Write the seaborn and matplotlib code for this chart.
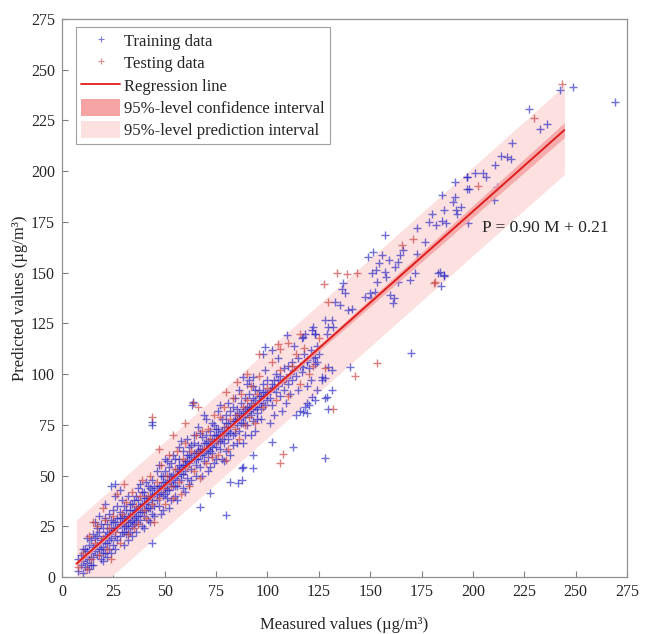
# ============================================================
# Measured vs predicted scatter with regression line and bands
# ============================================================

import numpy as np
import pandas as pd
import matplotlib
matplotlib.use('Agg')
import matplotlib.pyplot as plt
import seaborn as sns
from matplotlib.lines import Line2D
from matplotlib.patches import Patch

# -------------------------------------------------------
# DATA ((measured, predicted) pairs)
# -------------------------------------------------------

# training points, low range
train_low = [
    (8, 3), (9, 6), (9, 11), (10, 8), (10, 14), (11, 5), (11, 10), (12, 13), (12, 7), (13, 16),
    (13, 9), (14, 12), (14, 18), (15, 10), (15, 15), (8, 9), (10, 2), (12, 19), (14, 6), (15, 21),
    (16, 13), (16, 19), (17, 11), (17, 16), (18, 22), (18, 14), (19, 9), (19, 18), (20, 15), (20, 24),
    (21, 12), (21, 20), (22, 17), (22, 26), (23, 14), (23, 21), (24, 19), (24, 28), (25, 16), (25, 23),
    (16, 27), (18, 30), (20, 8), (22, 10), (24, 12), (17, 24), (19, 26), (21, 29), (23, 31), (25, 33),
    (26, 20), (26, 27), (27, 24), (27, 18), (28, 26), (28, 32), (29, 22), (29, 29), (30, 25), (30, 35),
    (31, 21), (31, 28), (32, 30), (32, 24), (33, 27), (33, 36), (34, 31), (34, 25), (35, 29), (35, 38),
    (26, 40), (28, 43), (30, 16), (32, 18), (34, 20), (27, 35), (29, 38), (31, 33), (33, 22), (35, 26),
    (26, 14), (30, 30), (32, 40), (34, 36), (28, 20), (24, 45), (26, 46), (21, 36),
    (36, 33), (36, 27), (37, 30), (37, 38), (38, 35), (38, 28), (39, 32), (39, 42), (40, 36), (40, 30),
    (41, 39), (41, 33), (42, 37), (42, 45), (43, 34), (43, 40), (44, 38), (44, 31), (45, 41), (45, 35),
    (36, 22), (38, 46), (40, 24), (42, 28), (44, 48), (37, 44), (39, 25), (41, 47), (43, 27), (45, 30),
    (36, 40), (40, 42), (44, 43), (43.6, 76.5), (43.8, 74.9), (43.6, 16.6),
    (46, 38), (46, 44), (47, 41), (47, 35), (48, 45), (48, 50), (49, 40), (49, 47), (50, 44), (50, 52),
    (51, 39), (51, 46), (52, 48), (52, 43), (53, 50), (53, 56), (54, 45), (54, 51), (55, 49), (55, 40),
    (46, 52), (48, 31), (50, 58), (52, 34), (54, 60), (47, 55), (49, 33), (51, 57), (53, 38), (55, 58),
    (50, 47), (52, 54), (56, 50), (56, 45), (57, 52), (57, 58), (58, 48), (58, 54), (59, 55), (59, 62),
    (60, 52), (60, 57), (61, 49), (61, 60), (62, 56), (62, 64), (63, 53), (63, 59), (64, 58), (64, 66),
    (65, 55), (65, 61), (56, 38), (58, 67), (60, 42), (62, 46), (64, 70), (57, 64), (59, 44), (61, 68),
    (63, 48), (65, 50), (63.9, 86.4), (63.1, 84.7), (67.2, 34.6), (72, 41.2),
]

# extra training points where the cloud is thickest
train_dense = [
    (11, 14), (13, 4), (15, 6), (17, 20), (19, 14), (21, 17), (23, 18), (25, 27), (27, 29), (29, 26),
    (31, 25), (33, 33), (35, 33), (37, 34), (39, 36), (41, 36), (43, 44), (45, 45), (47, 45), (49, 50),
    (51, 43), (53, 47), (55, 45), (57, 55), (59, 51), (61, 57), (63, 65), (65, 58), (67, 63), (69, 61),
    (71, 63), (73, 64), (75, 73), (77, 67), (79, 70), (81, 72), (83, 77), (85, 78), (87, 76), (89, 83),
    (91, 82), (93, 88), (95, 81), (97, 86), (99, 91), (101, 92), (103, 93), (105, 97), (20, 12), (22, 22),
    (24, 24), (26, 24), (28, 29), (30, 22), (32, 27), (34, 28), (36, 30), (38, 32), (40, 39), (42, 34),
    (44, 40), (46, 41), (48, 42), (50, 41), (52, 50), (54, 48), (56, 53), (58, 51), (60, 55), (62, 60),
    (64, 61), (66, 62), (68, 60), (70, 66), (72, 62), (74, 70), (76, 70), (78, 68), (80, 76), (82, 71),
    (84, 80), (86, 81), (88, 79), (90, 84), (92, 83), (94, 84), (96, 89), (98, 91), (100, 87), (102, 95),
]

# training points, middle range
train_mid = [
    (66, 58), (66, 65), (67, 60), (67, 54), (68, 63), (68, 69), (69, 57), (69, 66), (70, 62), (70, 70),
    (71, 59), (71, 67), (72, 65), (72, 72), (73, 61), (73, 68), (74, 66), (74, 75), (75, 64), (75, 70),
    (66, 74), (68, 50), (70, 78), (72, 54), (74, 56), (67, 71), (69, 80), (71, 52), (73, 76), (75, 58),
    (76, 67), (76, 73), (77, 70), (77, 63), (78, 72), (78, 78), (79, 66), (79, 74), (80, 71), (80, 80),
    (81, 68), (81, 76), (82, 74), (82, 82), (83, 70), (83, 65), (84, 77), (84, 71), (85, 75), (85, 83),
    (76, 82), (78, 58), (80, 62), (82, 60), (84, 88), (77, 85), (79, 57), (81, 86), (83, 84), (85, 66),
    (86, 78), (86, 72), (87, 80), (87, 86), (88, 76), (88, 82), (89, 79), (89, 88), (90, 81), (90, 75),
    (91, 84), (91, 90), (92, 80), (92, 86), (93, 83), (93, 77), (94, 87), (94, 92), (95, 84), (95, 78),
    (86, 92), (88, 66), (90, 95), (92, 70), (94, 72), (89, 70), (91, 97), (93, 94),
    (96, 86), (96, 92), (97, 83), (97, 89), (98, 88), (98, 95), (99, 85), (100, 90), (100, 97), (101, 88),
    (102, 93), (102, 85), (103, 97), (104, 91), (104, 100), (105, 94), (106, 89), (106, 99), (107, 96),
    (108, 92), (108, 103), (109, 98), (110, 95), (110, 104), (97, 78), (99, 102), (101, 76), (103, 80),
    (105, 108), (107, 82), (109, 86), (98, 110), (102, 112), (98.8, 113.4), (109.3, 119.2),
    (111, 100), (112, 97), (112, 106), (113, 102), (114, 99), (115, 108), (116, 104), (117, 101),
    (118, 110), (119, 106), (120, 103), (121, 112), (122, 108), (123, 105), (124, 114), (111, 90),
    (113, 114), (115, 92), (117, 118), (119, 94), (121, 97), (123, 120), (125, 110), (114, 80), (116, 82),
    (120, 85), (124, 92), (79.6, 30.5), (81.8, 46.9), (85.8, 46.1), (87.4, 53.5), (93.1, 53.5),
    (87.4, 47.8), (88.2, 54.3), (93.1, 60.1), (102, 66.7), (112.6, 64.2), (88.2, 98.7), (93.1, 98.7),
]

# training points, high range (sparse)
train_high = [
    (117.1, 118.4), (118.2, 120), (121.5, 121.7), (122.3, 123.3), (123.1, 120), (128.8, 120), (128, 126.6),
    (131.2, 126.9), (132, 123.3), (129.6, 123.3), (132.8, 135.6), (135.3, 134), (139.3, 131.5), (141, 132.3),
    (136.9, 144.7), (136.1, 141.7), (137.7, 139.8), (147.4, 138.1), (149.9, 139.8), (150.2, 137.3),
    (152.3, 140.6), (159.6, 138.9), (161.7, 137.3), (160.9, 135.1), (150.7, 149.9), (152.8, 151.2),
    (157.2, 150.4), (153.1, 145.5), (157.7, 148), (163.6, 145.5), (171.8, 149.6), (169.3, 146.3),
    (183.1, 149.9), (185.9, 148.3), (184.3, 143.3), (151.2, 160.2), (149.1, 157.5), (155.6, 158.6),
    (159.3, 156.2), (154.4, 154.8), (163.6, 155.3), (162, 152.9), (166.1, 161.1), (164.5, 158.6),
    (176.6, 165.2), (172.6, 159.1), (157.2, 168.5), (172.6, 172.1), (185, 188.5), (191.2, 194.7),
    (197.2, 196.9), (201, 198.9), (204.7, 198.9), (206.3, 197.2), (196.9, 196.9), (211.5, 192.3),
    (210.4, 185.7), (191.2, 187.4), (196.9, 191), (198.2, 191), (190.1, 184.9), (194.2, 182.4),
    (191.7, 180.8), (192.4, 179.1), (180.2, 178.8), (186, 180.8), (178.7, 175), (182, 173.4),
    (185.1, 175.5), (186.9, 174.6), (197.4, 174.6), (183.9, 150.4), (186, 148.8), (210.9, 203.3),
    (213.8, 207.7), (216.5, 207), (218.3, 206), (218.8, 214.1), (227.4, 230.7), (232.6, 220.9),
    (236.2, 223.3), (242.3, 239.9), (248.8, 241.5), (269.1, 234.3), (170.1, 110.5), (140.1, 103.6),
    (131.2, 102), (129.6, 103.6), (126.4, 98.7), (126.4, 97), (131.2, 92.1), (128, 88), (121.5, 88.8),
    (123.1, 87.2), (119.1, 85.6), (118.2, 83.9), (117.4, 81.4), (119.1, 80.6), (123.1, 108.5),
    (123.9, 106.1), (119.1, 106.9), (117.4, 103.6), (128, 58.6), (128, 97.9), (128.8, 88.8), (129.6, 82.6),
]

# testing points
test_low = [
    (8, 5), (10, 12), (12, 4), (13, 20), (14, 9), (16, 17), (17, 25), (18, 11), (20, 19), (21, 28),
    (22, 14), (23, 24), (24, 9), (25, 30), (26, 22), (27, 41), (28, 17), (29, 31), (30, 27), (31, 37),
    (32, 21), (33, 30), (34, 42), (35, 24), (36, 35), (37, 26), (38, 40), (39, 48), (40, 33), (41, 29),
    (42, 40), (43, 50), (44, 36), (45, 27), (46, 47), (47, 39), (48, 55), (49, 44), (50, 36), (51, 50),
    (52, 60), (53, 45), (54, 39), (55, 53), (56, 62), (57, 47), (58, 41), (59, 58), (60, 66), (61, 54),
    (62, 45), (63, 62), (64, 52), (65, 70), (66, 61), (67, 49), (68, 72), (69, 63), (70, 56), (71, 73),
    (72, 68), (73, 59), (74, 80), (75, 67), (76, 60), (77, 79), (78, 70), (79, 84), (80, 74), (81, 63),
    (82, 78), (83, 88), (84, 73), (85, 80), (86, 68), (87, 90), (88, 84), (89, 75), (90, 87), (91, 79),
    (92, 94), (93, 85), (94, 76), (95, 90), (96, 99), (98, 84), (100, 93), (102, 106), (104, 87),
    (106, 102), (108, 97), (110, 89), (112, 104), (114, 110), (116, 95), (118, 113), (120, 100),
    (122, 104), (125, 118), (47, 63), (54, 70), (60, 76), (66, 84), (80, 91), (85, 96), (90, 100),
    (96, 110), (105, 115), (30, 46), (20, 34), (15, 27), (43.6, 79), (63.9, 85.6), (80, 57.6),
    (107.7, 60.6), (106.1, 56),
]

test_high = [
    (243.6, 242.9), (229.7, 226.3), (202.3, 192.6), (181.5, 145.5), (181.2, 144.7), (171, 166.4),
    (165.3, 163.5), (133.7, 149.9), (138.5, 149.1), (143.4, 149.9), (127.6, 144.3), (129.6, 135.6),
    (153.1, 105.3), (142.6, 99.2), (128, 102.8), (132, 82.6), (106, 112.6), (110.1, 115.1), (115.8, 120),
]

# regression line and the numbers behind its bands
slope, intercept = 0.90, 0.21
m_start, m_end = 7.0, 244.5
resid_sd = 11.0      # spread of points around the line
n_obs = 1000
m_mean = 60.0
m_sxx = 1.19e6

# -------------------------------------------------------
# TABLES
# -------------------------------------------------------

train_df = pd.DataFrame(train_low + train_dense + train_mid + train_high, columns=['M', 'P'])
test_df = pd.DataFrame(test_low + test_high, columns=['M', 'P'])

line_m = np.linspace(m_start, m_end, 200)
line_p = slope * line_m + intercept
lev = 1 / n_obs + (line_m - m_mean) ** 2 / m_sxx
ci_half = 1.96 * resid_sd * np.sqrt(lev)
pi_half = 1.96 * resid_sd * np.sqrt(1 + lev)
line_df = pd.DataFrame({'M': line_m, 'P': line_p})

# -------------------------------------------------------
# PLOT
# -------------------------------------------------------

sns.set_style('ticks')
plt.rcParams['font.family'] = ['Liberation Serif', 'DejaVu Serif']

c_train = '#2424c4'
c_test = '#c83c3c'
c_line = '#e01e1e'
c_ci = '#f5a3a3'
c_pi = '#fde0e0'

fig = plt.figure(figsize=(6.46, 6.34), dpi=100)
ax = fig.add_axes([0.096, 0.0899, 0.8746, 0.8801])

# prediction interval in the background
ax.fill_between(line_m, line_p - pi_half, line_p + pi_half, color=c_pi, lw=0, zorder=1)

sns.scatterplot(data=train_df, x='M', y='P', marker='+', s=40, color=c_train,
                alpha=0.65, linewidth=1.0, ax=ax, zorder=2, legend=False)
sns.scatterplot(data=test_df, x='M', y='P', marker='+', s=40, color=c_test,
                alpha=0.65, linewidth=1.0, ax=ax, zorder=2, legend=False)

ax.fill_between(line_m, line_p - ci_half, line_p + ci_half, color=c_ci, lw=0, alpha=0.85, zorder=3)
sns.lineplot(data=line_df, x='M', y='P', color=c_line, lw=1.4, ax=ax, zorder=4)

ax.text(204.5, 172, 'P = 0.90 M + 0.21', fontsize=12.5, va='center', ha='left')

ax.set_xlim(0, 275)
ax.set_ylim(0, 275)
ticks = np.arange(0, 276, 25)
ax.set_xticks(ticks)
ax.set_yticks(ticks)
ax.tick_params(direction='in', length=4, width=0.8, color='#808080', labelsize=11.5, pad=5)
for sp in ax.spines.values():
    sp.set_color('#909090')
    sp.set_linewidth(0.9)

ax.set_xlabel('Measured values (µg/m³)', fontsize=12, labelpad=12)
ax.set_ylabel('Predicted values (µg/m³)', fontsize=12, labelpad=2)

handles = [
    Line2D([], [], ls='none', marker='+', ms=5, mew=0.8, color=c_train, alpha=0.6),
    Line2D([], [], ls='none', marker='+', ms=5, mew=0.8, color=c_test, alpha=0.6),
    Line2D([], [], color=c_line, lw=1.3),
    Patch(facecolor=c_ci, edgecolor='none'),
    Patch(facecolor=c_pi, edgecolor='none'),
]
labels = ['Training data', 'Testing data', 'Regression line',
          '95%-level confidence interval', '95%-level prediction interval']
leg = ax.legend(handles, labels, loc='upper left', bbox_to_anchor=(0.025, 0.986),
                borderaxespad=0, fontsize=12, frameon=True, fancybox=False,
                framealpha=1, edgecolor='#a0a0a0', handlelength=2.35, handleheight=1.15,
                handletextpad=0.25, labelspacing=0.27, borderpad=0.3)
leg.get_frame().set_linewidth(0.8)

plt.savefig('out.png', dpi=100)
